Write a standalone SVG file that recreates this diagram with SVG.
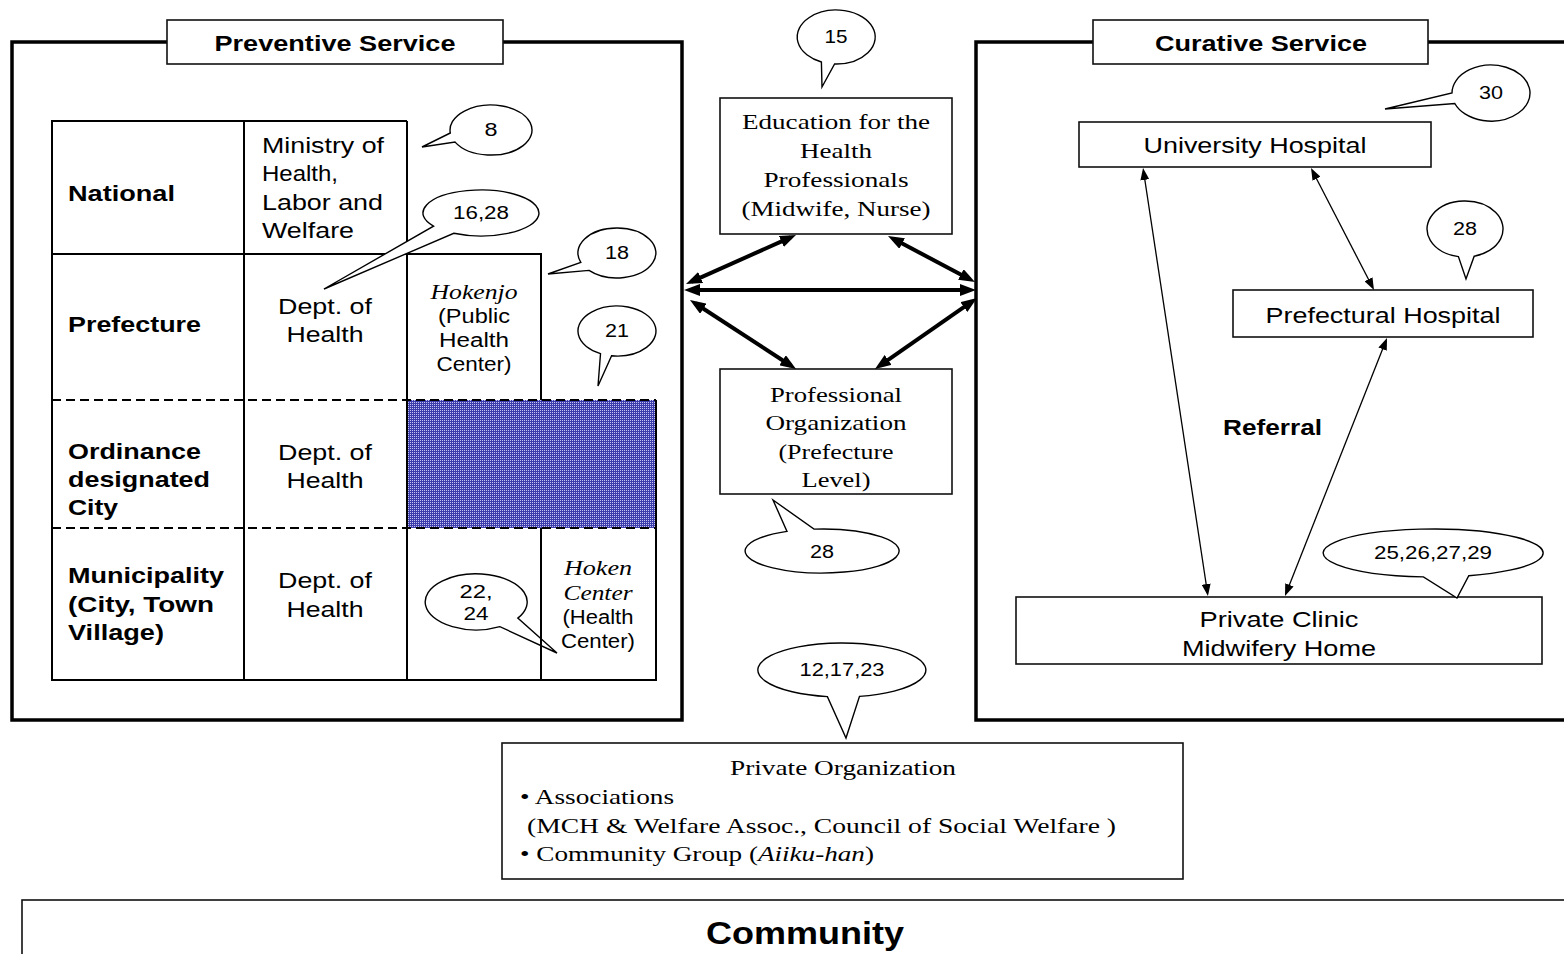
<svg xmlns="http://www.w3.org/2000/svg" width="1564" height="954" viewBox="0 0 1564 954">
<style>
.s{font-family:"Liberation Sans",Arial,sans-serif;font-size:22px;fill:#000}
.b{font-weight:bold}
.r{font-family:"Liberation Serif","Times New Roman",serif;font-size:22px;fill:#000}
.i{font-style:italic}
.c{text-anchor:middle}
.n{font-family:"Liberation Sans",Arial,sans-serif;font-size:18px;text-anchor:middle;fill:#000}
.f20{font-size:20px}
.f21{font-size:21px}
.f32{font-size:32px}
.frame{fill:none;stroke:#000;stroke-width:3.5}
.box{fill:#fff;stroke:#111;stroke-width:1.6}
.tl{fill:none;stroke:#000;stroke-width:2}
.dash{stroke-dasharray:9 5}
.co{fill:#fff;stroke:#000;stroke-width:1.4;stroke-linejoin:miter}
.ta{stroke:#000;stroke-width:4;fill:none;marker-start:url(#hT);marker-end:url(#hT)}
.tn{stroke:#000;stroke-width:1.3;fill:none;marker-start:url(#hN);marker-end:url(#hN)}
</style>
<defs>
<marker id="hT" viewBox="0 0 16 12" refX="10" refY="6" markerWidth="16" markerHeight="12" markerUnits="userSpaceOnUse" orient="auto-start-reverse"><path d="M0,0 L16,6 L0,12 z" fill="#000"/></marker>
<marker id="hN" viewBox="0 0 12 9" refX="9" refY="4.5" markerWidth="12" markerHeight="9" markerUnits="userSpaceOnUse" orient="auto-start-reverse"><path d="M0,0 L12,4.5 L0,9 z" fill="#000"/></marker>
<pattern id="hatch" width="2" height="2" patternUnits="userSpaceOnUse"><rect width="2" height="2" fill="#3c3cac"/><rect width="1" height="1" fill="#c4c4f0"/></pattern>
</defs>
<rect width="1564" height="954" fill="#fff"/>

<g id="preventive-frame">
<path class="frame" d="M167,42 H12 V720 H682 V42 H503"/>
<rect class="box" x="167" y="20" width="336" height="44"/>
<text class="s b c" x="335" y="51" textLength="241" lengthAdjust="spacingAndGlyphs">Preventive Service</text>
</g>

<g id="curative-frame">
<path class="frame" d="M1093,42 H976 V720 H1568 M1428,42 H1568"/>
<rect class="box" x="1093" y="20" width="335" height="44"/>
<text class="s b c" x="1261" y="51" textLength="212" lengthAdjust="spacingAndGlyphs">Curative Service</text>
</g>

<g id="callout-22-24">
<path class="co" d="M499.9,626.7 A51,28 0 1 1 517.8,618.1 L557,653 Z"/>
<text class="n" x="476" y="598" textLength="33" lengthAdjust="spacingAndGlyphs">22,</text>
<text class="n" x="476" y="620" textLength="25" lengthAdjust="spacingAndGlyphs">24</text>
</g>

<g id="table">
<rect x="407" y="400" width="249" height="128" fill="url(#hatch)"/>
<path class="tl" d="M407,121 H52 V680 H656 V400"/>
<path class="tl" d="M244,121 V680 M407,121 V680 M52,254 H407 M407,254 H541 V400 M541,528 V680"/>
<path class="tl dash" d="M52,400 H656 M52,528 H656"/>
</g>

<g id="level-national">
<text class="s b" x="68" y="201" textLength="107" lengthAdjust="spacingAndGlyphs">National</text>
</g>
<g id="level-prefecture">
<text class="s b" x="68" y="332" textLength="133" lengthAdjust="spacingAndGlyphs">Prefecture</text>
</g>
<g id="level-ordinance">
<text class="s b" x="68" y="459" textLength="133" lengthAdjust="spacingAndGlyphs">Ordinance</text>
<text class="s b" x="68" y="487" textLength="142" lengthAdjust="spacingAndGlyphs">designated</text>
<text class="s b" x="68" y="515" textLength="50" lengthAdjust="spacingAndGlyphs">City</text>
</g>
<g id="level-municipality">
<text class="s b" x="68" y="583" textLength="156" lengthAdjust="spacingAndGlyphs">Municipality</text>
<text class="s b" x="68" y="612" textLength="146" lengthAdjust="spacingAndGlyphs">(City, Town</text>
<text class="s b" x="68" y="640" textLength="96" lengthAdjust="spacingAndGlyphs">Village)</text>
</g>

<g id="ministry">
<text class="s" x="262" y="153" textLength="122" lengthAdjust="spacingAndGlyphs">Ministry of</text>
<text class="s" x="262" y="181" textLength="76" lengthAdjust="spacingAndGlyphs">Health,</text>
<text class="s" x="262" y="210" textLength="121" lengthAdjust="spacingAndGlyphs">Labor and</text>
<text class="s" x="262" y="238" textLength="92" lengthAdjust="spacingAndGlyphs">Welfare</text>
</g>
<g id="dept-prefecture">
<text class="s c" x="325" y="314" textLength="94" lengthAdjust="spacingAndGlyphs">Dept. of</text>
<text class="s c" x="325" y="342" textLength="77" lengthAdjust="spacingAndGlyphs">Health</text>
</g>
<g id="dept-ordinance">
<text class="s c" x="325" y="460" textLength="94" lengthAdjust="spacingAndGlyphs">Dept. of</text>
<text class="s c" x="325" y="488" textLength="77" lengthAdjust="spacingAndGlyphs">Health</text>
</g>
<g id="dept-municipality">
<text class="s c" x="325" y="588" textLength="94" lengthAdjust="spacingAndGlyphs">Dept. of</text>
<text class="s c" x="325" y="617" textLength="77" lengthAdjust="spacingAndGlyphs">Health</text>
</g>
<g id="hokenjo">
<text class="r i c f21" x="474" y="299" textLength="87" lengthAdjust="spacingAndGlyphs">Hokenjo</text>
<text class="s c f20" x="474" y="323" textLength="72" lengthAdjust="spacingAndGlyphs">(Public</text>
<text class="s c f20" x="474" y="347" textLength="70" lengthAdjust="spacingAndGlyphs">Health</text>
<text class="s c f20" x="474" y="371" textLength="75" lengthAdjust="spacingAndGlyphs">Center)</text>
</g>
<g id="hoken-center">
<text class="r i c f21" x="598" y="575" textLength="68" lengthAdjust="spacingAndGlyphs">Hoken</text>
<text class="r i c f21" x="598" y="600" textLength="69" lengthAdjust="spacingAndGlyphs">Center</text>
<text class="s c f20" x="598" y="624" textLength="71" lengthAdjust="spacingAndGlyphs">(Health</text>
<text class="s c f20" x="598" y="648" textLength="74" lengthAdjust="spacingAndGlyphs">Center)</text>
</g>

<g id="callout-8">
<path class="co" d="M450.3,133 A41,25 0 1 1 455.1,142.1 L422,147 Z"/>
<text class="n" x="491" y="136" textLength="13" lengthAdjust="spacingAndGlyphs">8</text>
</g>
<g id="callout-16-28">
<path class="co" d="M433.5,226.2 A58,23 0 1 1 453.8,233.3 L324,289 Z"/>
<text class="n" x="481" y="219" textLength="56" lengthAdjust="spacingAndGlyphs">16,28</text>
</g>
<g id="callout-18">
<path class="co" d="M580.8,262.4 A39,25 0 1 1 589,270.4 L548,274 Z"/>
<text class="n" x="617" y="259" textLength="24" lengthAdjust="spacingAndGlyphs">18</text>
</g>
<g id="callout-21">
<path class="co" d="M600.5,353.7 A39,25 0 1 1 611.6,355.8 L598,386 Z"/>
<text class="n" x="617" y="337" textLength="24" lengthAdjust="spacingAndGlyphs">21</text>
</g>

<g id="education">
<rect class="box" x="720" y="98" width="232" height="136"/>
<text class="r c" x="836" y="129" textLength="188" lengthAdjust="spacingAndGlyphs">Education for the</text>
<text class="r c" x="836" y="158" textLength="72" lengthAdjust="spacingAndGlyphs">Health</text>
<text class="r c" x="836" y="187" textLength="145" lengthAdjust="spacingAndGlyphs">Professionals</text>
<text class="r c" x="836" y="216" textLength="189" lengthAdjust="spacingAndGlyphs">(Midwife, Nurse)</text>
</g>
<g id="callout-15">
<path class="co" d="M821.4,62 A39,27 0 1 1 834.6,64 L822,87 Z"/>
<text class="n" x="836" y="43" textLength="23" lengthAdjust="spacingAndGlyphs">15</text>
</g>

<g id="professional-org">
<rect class="box" x="720" y="369" width="232" height="125"/>
<text class="r c" x="836" y="402" textLength="132" lengthAdjust="spacingAndGlyphs">Professional</text>
<text class="r c" x="836" y="430" textLength="141" lengthAdjust="spacingAndGlyphs">Organization</text>
<text class="r c" x="836" y="459" textLength="115" lengthAdjust="spacingAndGlyphs">(Prefecture</text>
<text class="r c" x="836" y="487" textLength="69" lengthAdjust="spacingAndGlyphs">Level)</text>
</g>
<g id="callout-28-prof">
<path class="co" d="M814,529.1 A77,22 0 1 1 787,531.4 L773,500 Z"/>
<text class="n" x="822" y="558" textLength="24" lengthAdjust="spacingAndGlyphs">28</text>
</g>

<g id="university-hospital">
<rect class="box" x="1079" y="122" width="352" height="45"/>
<text class="s c" x="1255" y="153" textLength="223" lengthAdjust="spacingAndGlyphs">University Hospital</text>
</g>
<g id="callout-30">
<path class="co" d="M1452,93 A39,28 0 1 1 1454.8,103.5 L1385,109 Z"/>
<text class="n" x="1491" y="99" textLength="24" lengthAdjust="spacingAndGlyphs">30</text>
</g>
<g id="prefectural-hospital">
<rect class="box" x="1233" y="290" width="300" height="47"/>
<text class="s c" x="1383" y="323" textLength="235" lengthAdjust="spacingAndGlyphs">Prefectural Hospital</text>
</g>
<g id="callout-28-pref">
<path class="co" d="M1458.4,256.6 A38,28 0 1 1 1474.2,256.2 L1466,279 Z"/>
<text class="n" x="1465" y="235" textLength="24" lengthAdjust="spacingAndGlyphs">28</text>
</g>
<g id="referral-label">
<text class="s b" x="1223" y="435" textLength="99" lengthAdjust="spacingAndGlyphs">Referral</text>
</g>
<g id="private-clinic">
<rect class="box" x="1016" y="597" width="526" height="67"/>
<text class="s c" x="1279" y="627" textLength="159" lengthAdjust="spacingAndGlyphs">Private Clinic</text>
<text class="s c" x="1279" y="656" textLength="194" lengthAdjust="spacingAndGlyphs">Midwifery Home</text>
</g>
<g id="callout-25-29">
<path class="co" d="M1423.4,576.9 A110,24 0 1 1 1468.8,575.7 L1457,598 Z"/>
<text class="n" x="1433" y="559" textLength="118" lengthAdjust="spacingAndGlyphs">25,26,27,29</text>
</g>

<g id="private-organization">
<rect class="box" x="502" y="743" width="681" height="136"/>
<text class="r c f21" x="843" y="775" textLength="226" lengthAdjust="spacingAndGlyphs">Private Organization</text>
<text class="r f21" x="520" y="804" textLength="154" lengthAdjust="spacingAndGlyphs">• Associations</text>
<text class="r f21" x="527" y="833" textLength="589" lengthAdjust="spacingAndGlyphs">(MCH &amp; Welfare Assoc., Council of Social Welfare )</text>
<text class="r f21" x="520" y="861" textLength="354" lengthAdjust="spacingAndGlyphs">• Community Group (<tspan class="i">Aiiku-han</tspan>)</text>
</g>
<g id="callout-12-17-23">
<path class="co" d="M827.4,696.6 A84,27 0 1 1 859.5,696.4 L846,738 Z"/>
<text class="n" x="842" y="676" textLength="85" lengthAdjust="spacingAndGlyphs">12,17,23</text>
</g>

<g id="community">
<rect x="22" y="900" width="1560" height="70" fill="none" stroke="#111" stroke-width="1.6"/>
<text class="s b c f32" x="805" y="944" textLength="198" lengthAdjust="spacingAndGlyphs">Community</text>
</g>

<g id="connectors">
<path class="ta" d="M690,290 H970"/>
<path class="ta" d="M790.5,237.4 L691.5,281.6"/>
<path class="ta" d="M893.3,238.8 L969.7,279.2"/>
<path class="ta" d="M695,303.3 L791,365.7"/>
<path class="ta" d="M879.9,365.6 L972.1,301.4"/>
<path class="tn" d="M1143.5,171 L1207.5,593"/>
<path class="tn" d="M1312.4,170.7 L1372.6,287.3"/>
<path class="tn" d="M1385.9,340.8 L1286.1,593.2"/>
</g>
</svg>
